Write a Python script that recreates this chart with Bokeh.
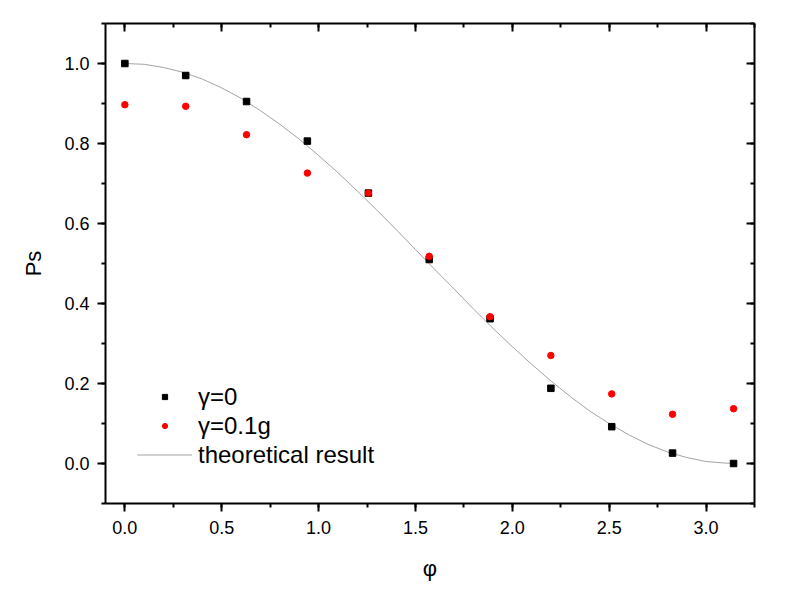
from bokeh.plotting import figure
from bokeh.models import LinearAxis, Legend, LegendItem, Range1d, SingleIntervalTicker, NumeralTickFormatter
from bokeh.embed import file_html
from bokeh.resources import INLINE

# data
phi = [0.0, 0.314, 0.628, 0.942, 1.257, 1.571, 1.885, 2.199, 2.513, 2.827, 3.142]
ps_gamma0 = [1.000, 0.970, 0.905, 0.806, 0.676, 0.510, 0.362, 0.188, 0.092, 0.026, 0.000]
ps_gamma01 = [0.897, 0.893, 0.822, 0.726, 0.676, 0.518, 0.367, 0.270, 0.174, 0.123, 0.137]

theory_phi = [0.0, 0.1, 0.2, 0.3, 0.4, 0.5, 0.6, 0.7, 0.8, 0.9, 1.0, 1.1, 1.2, 1.3, 1.4,
              1.5, 1.6, 1.7, 1.8, 1.9, 2.0, 2.1, 2.2, 2.3, 2.4, 2.5, 2.6, 2.7, 2.8, 2.9,
              3.0, 3.1, 3.142]
theory_ps = [1.000, 0.998, 0.990, 0.978, 0.961, 0.939, 0.913, 0.882, 0.848, 0.811, 0.770,
             0.727, 0.681, 0.634, 0.585, 0.535, 0.485, 0.436, 0.386, 0.338, 0.292, 0.248,
             0.206, 0.167, 0.131, 0.100, 0.072, 0.048, 0.029, 0.015, 0.005, 0.001, 0.000]

labels = ["\u03b3=0", "\u03b3=0.1g", "theoretical result"]
x_label = "\u03c6"
y_label = "Ps"

FONT = "Liberation Sans"

p = figure(width=773, height=583, output_backend="svg", toolbar_location=None,
           x_range=Range1d(-0.1, 3.25), y_range=Range1d(-0.1, 1.1),
           min_border_left=105, min_border_right=19, min_border_top=23, min_border_bottom=78)
p.grid.visible = False
p.outline_line_color = None
p.background_fill_color = "white"
p.border_fill_color = "white"

line_r = p.line(theory_phi, theory_ps, line_color="#999999", line_width=0.9)
sq_r = p.scatter(phi, ps_gamma0, marker="square", size=6.5, fill_color="black", line_color="black")
ci_r = p.scatter(phi, ps_gamma01, marker="circle", size=6.5, fill_color="red", line_color="red")

def style_axis(ax, inside=False):
    ax.axis_line_width = 2
    ax.axis_line_color = "black"
    ax.major_tick_line_width = 2
    ax.minor_tick_line_width = 2
    ax.major_tick_line_color = "black"
    ax.minor_tick_line_color = "black"
    if inside:
        ax.major_tick_in = 8
        ax.major_tick_out = 0
        ax.minor_tick_in = 4
        ax.minor_tick_out = 0
        ax.major_label_text_font_size = "0px"
        ax.major_label_text_alpha = 0
    else:
        ax.major_tick_in = 0
        ax.major_tick_out = 8
        ax.minor_tick_in = 0
        ax.minor_tick_out = 4
        ax.formatter = NumeralTickFormatter(format="0.0")
        ax.major_label_text_font = FONT
        ax.major_label_text_font_size = "18px"
        ax.major_label_text_color = "black"
        ax.major_label_standoff = 8
        ax.axis_label_text_font = FONT
        ax.axis_label_text_font_style = "normal"
        ax.axis_label_text_font_size = "22px"
        ax.axis_label_text_color = "black"

p.xaxis[0].ticker = SingleIntervalTicker(interval=0.5, num_minor_ticks=2)
p.yaxis[0].ticker = SingleIntervalTicker(interval=0.2, num_minor_ticks=2)
p.xaxis[0].axis_label = x_label
p.yaxis[0].axis_label = y_label
style_axis(p.xaxis[0])
style_axis(p.yaxis[0])
p.xaxis[0].major_label_standoff = 9
p.xaxis[0].axis_label_standoff = 19
p.yaxis[0].axis_label_standoff = 15

top_ax = LinearAxis(ticker=SingleIntervalTicker(interval=0.5, num_minor_ticks=2))
right_ax = LinearAxis(ticker=SingleIntervalTicker(interval=0.2, num_minor_ticks=2))
style_axis(top_ax, inside=True)
style_axis(right_ax, inside=True)
p.add_layout(top_ax, "above")
p.add_layout(right_ax, "right")

legend = Legend(items=[LegendItem(label=labels[0], renderers=[sq_r]),
                       LegendItem(label=labels[1], renderers=[ci_r]),
                       LegendItem(label=labels[2], renderers=[line_r])],
                location=(32, 34), orientation="vertical",
                glyph_width=55, glyph_height=13, label_height=29, spacing=0,
                label_standoff=6, padding=0, margin=0,
                border_line_color=None, background_fill_alpha=0,
                label_text_font=FONT, label_text_font_size="24px",
                label_text_color="black")
p.add_layout(legend, "center")

open("out.html", "w").write(file_html(p, INLINE))
